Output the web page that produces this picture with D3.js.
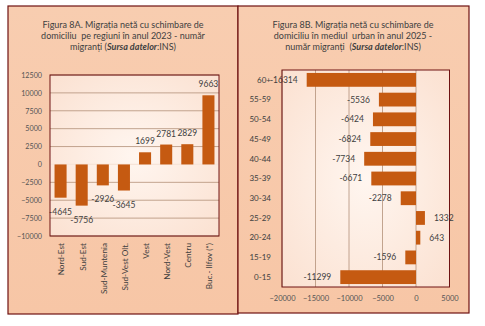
<!DOCTYPE html>
<html>
<head>
<meta charset="utf-8">
<script src="https://cdn.jsdelivr.net/npm/d3@7"></script>
<style>
  html, body { margin: 0; padding: 0; background: #fff; }
  svg { display: block; font-family: Lato, "Open Sans", sans-serif; }
</style>
</head>
<body>
<svg width="485" height="326"></svg>
<script>
// regions, 2023
const regions = ["Nord-Est", "Sud-Est", "Sud-Muntenia", "Sud-Vest Olt.", "Vest", "Nord-Vest", "Centru", "Buc.- Ilfov (*)"];
const regionValues = [-4645, -5756, -2926, -3645, 1699, 2781, 2829, 9663];
const regionTicks = [-10000, -7500, -5000, -2500, 0, 2500, 5000, 7500, 10000, 12500];

// age groups, urban, 2025
const ageGroups = ["60+", "55-59", "50-54", "45-49", "40-44", "35-39", "30-34", "25-29", "20-24", "15-19", "0-15"];
const ageValues = [-16314, -5536, -6424, -6824, -7734, -6671, -2278, 1332, 643, -1596, -11299];
const ageTicks = [-20000, -15000, -10000, -5000, 0, 5000];

const titleA = ["Figura 8A. Migrația netă cu schimbare de", "domiciliu  pe regiuni în anul 2023 - număr", "migranți "];
const titleB = ["Figura 8B. Migrația netă cu schimbare de", "domiciliu în mediul  urban în anul 2025 -", "număr migranți  "];

const barColor = "#c55a11";
const borderColor = "#6e1212";
const gridColor = "#b39079";
const textColor = "#404040";

const svg = d3.select("svg");
const defs = svg.append("defs");

let panelGrad = defs.append("linearGradient").attr("id", "panelGrad")
    .attr("x1", 0).attr("y1", 0).attr("x2", 0).attr("y2", 1);
panelGrad.append("stop").attr("offset", "0%").attr("stop-color", "#f8cdb0");
panelGrad.append("stop").attr("offset", "100%").attr("stop-color", "#f7c6a6");

let plotGrad = defs.append("radialGradient").attr("id", "plotGrad")
    .attr("cx", "50%").attr("cy", "50%").attr("r", "70%");
plotGrad.append("stop").attr("offset", "0%").attr("stop-color", "#fff6f0");
plotGrad.append("stop").attr("offset", "100%").attr("stop-color", "#fbe1d1");

function drawTitle(lines, cx) {
    lines.forEach((line, i) => {
        let t = svg.append("text")
            .attr("x", cx)
            .attr("y", 28 + i * 11)
            .attr("text-anchor", "middle")
            .attr("font-size", "9px")
            .attr("fill", textColor)
            .style("white-space", "pre")
            .text(line);
        if (i === 2) {
            t.append("tspan").text("(");
            t.append("tspan").attr("font-weight", "bold").attr("font-style", "italic").text("Sursa datelor");
            t.append("tspan").text(":INS)");
        }
    });
}

// ---------- left panel: regions ----------
svg.append("rect")
    .attr("x", 8).attr("y", 6).attr("width", 230).attr("height", 308)
    .attr("fill", "url(#panelGrad)")
    .attr("stroke", borderColor).attr("stroke-width", 1.2);

drawTitle(titleA, 123);

const areaA = { left: 50, right: 219, top: 75, bottom: 236 };

let scYA = d3.scaleLinear().domain([-10000, 12500]).range([areaA.bottom, areaA.top]);
let scXA = d3.scaleBand().domain(regions)
    .range([areaA.left, areaA.right])
    .paddingInner(0.43).paddingOuter(0.215);

svg.append("rect")
    .attr("x", areaA.left).attr("y", areaA.top)
    .attr("width", areaA.right - areaA.left).attr("height", areaA.bottom - areaA.top)
    .attr("fill", "url(#plotGrad)");

svg.append("g").selectAll("line")
    .data(regionTicks)
    .enter()
    .append("line")
    .attr("x1", areaA.left).attr("x2", areaA.right)
    .attr("y1", d => scYA(d)).attr("y2", d => scYA(d))
    .attr("stroke", d => d === 0 ? "#f7e4d8" : gridColor)
    .attr("stroke-width", d => d === 0 ? 1.2 : 0.8);

let axisYA = svg.append("g")
    .attr("transform", `translate(${areaA.left}, 0)`)
    .call(d3.axisLeft(scYA).tickValues(regionTicks).tickSize(0).tickPadding(8).tickFormat(d3.format("d")));
axisYA.select(".domain").remove();
axisYA.selectAll("text").attr("font-size", "7.2px").attr("fill", "#555").attr("font-family", "Lato, sans-serif");

svg.append("g").selectAll("rect")
    .data(regions.map((r, i) => ({ label: r, value: regionValues[i] })))
    .enter()
    .append("rect")
    .attr("x", d => scXA(d.label))
    .attr("width", scXA.bandwidth())
    .attr("y", d => Math.min(scYA(d.value), scYA(0)))
    .attr("height", d => Math.abs(scYA(d.value) - scYA(0)))
    .attr("fill", barColor);

svg.append("g").selectAll("text")
    .data(regions.map((r, i) => ({ label: r, value: regionValues[i] })))
    .enter()
    .append("text")
    .attr("x", d => scXA(d.label) + scXA.bandwidth() / 2)
    .attr("y", d => d.value >= 0 ? scYA(d.value) - 8 : scYA(d.value) + 17)
    .attr("text-anchor", "middle")
    .attr("font-size", "8.5px")
    .attr("fill", textColor)
    .text(d => d.value);

svg.append("rect")
    .attr("x", areaA.left).attr("y", areaA.top)
    .attr("width", areaA.right - areaA.left).attr("height", areaA.bottom - areaA.top)
    .attr("fill", "none").attr("stroke", borderColor).attr("stroke-width", 1);

svg.append("g").selectAll("text")
    .data(regions)
    .enter()
    .append("text")
    .attr("transform", d => `translate(${scXA(d) + scXA.bandwidth() / 2 + 1}, 243) rotate(-90)`)
    .attr("dy", "0.35em")
    .attr("text-anchor", "end")
    .attr("font-size", "8.2px")
    .attr("fill", textColor)
    .text(d => d);

// ---------- right panel: age groups ----------
svg.append("rect")
    .attr("x", 238).attr("y", 6).attr("width", 231).attr("height", 307)
    .attr("fill", "url(#panelGrad)")
    .attr("stroke", borderColor).attr("stroke-width", 1.2);

drawTitle(titleB, 353);

const areaB = { left: 282, right: 449.5, top: 70, bottom: 287 };

let scXB = d3.scaleLinear().domain([-20000, 5000]).range([areaB.left, areaB.right]);
let scYB = d3.scaleBand().domain(ageGroups)
    .range([areaB.top, areaB.bottom])
    .paddingInner(0.3).paddingOuter(0.15);

svg.append("rect")
    .attr("x", areaB.left).attr("y", areaB.top)
    .attr("width", areaB.right - areaB.left).attr("height", areaB.bottom - areaB.top)
    .attr("fill", "url(#plotGrad)");

svg.append("g").selectAll("line")
    .data(ageTicks)
    .enter()
    .append("line")
    .attr("y1", areaB.top).attr("y2", areaB.bottom)
    .attr("x1", d => scXB(d)).attr("x2", d => scXB(d))
    .attr("stroke", gridColor)
    .attr("stroke-width", 0.8);

let axisXB = svg.append("g")
    .attr("transform", `translate(0, ${areaB.bottom})`)
    .call(d3.axisBottom(scXB).tickValues(ageTicks).tickSize(0).tickPadding(9).tickFormat(d3.format("d")));
axisXB.select(".domain").remove();
axisXB.selectAll("text").attr("font-size", "7.5px").attr("fill", "#555").attr("font-family", "Lato, sans-serif");

svg.append("g").selectAll("rect")
    .data(ageGroups.map((g, i) => ({ label: g, value: ageValues[i] })))
    .enter()
    .append("rect")
    .attr("y", d => scYB(d.label))
    .attr("height", scYB.bandwidth())
    .attr("x", d => Math.min(scXB(d.value), scXB(0)))
    .attr("width", d => Math.abs(scXB(d.value) - scXB(0)))
    .attr("fill", barColor);

svg.append("g").selectAll("text")
    .data(ageGroups.map((g, i) => ({ label: g, value: ageValues[i] })))
    .enter()
    .append("text")
    .attr("x", d => d.value >= 0 ? scXB(d.value) + 9 : scXB(d.value) - 9)
    .attr("y", d => scYB(d.label) + scYB.bandwidth() / 2)
    .attr("dy", "0.35em")
    .attr("text-anchor", d => d.value >= 0 ? "start" : "end")
    .attr("font-size", "8.5px")
    .attr("fill", textColor)
    .text(d => d.value);

svg.append("rect")
    .attr("x", areaB.left).attr("y", areaB.top)
    .attr("width", areaB.right - areaB.left).attr("height", areaB.bottom - areaB.top)
    .attr("fill", "none").attr("stroke", borderColor).attr("stroke-width", 1);

svg.append("g").selectAll("text")
    .data(ageGroups)
    .enter()
    .append("text")
    .attr("x", 271)
    .attr("y", d => scYB(d) + scYB.bandwidth() / 2)
    .attr("dy", "0.35em")
    .attr("text-anchor", "end")
    .attr("font-size", "8px")
    .attr("fill", textColor)
    .text(d => d);
</script>
</body>
</html>
